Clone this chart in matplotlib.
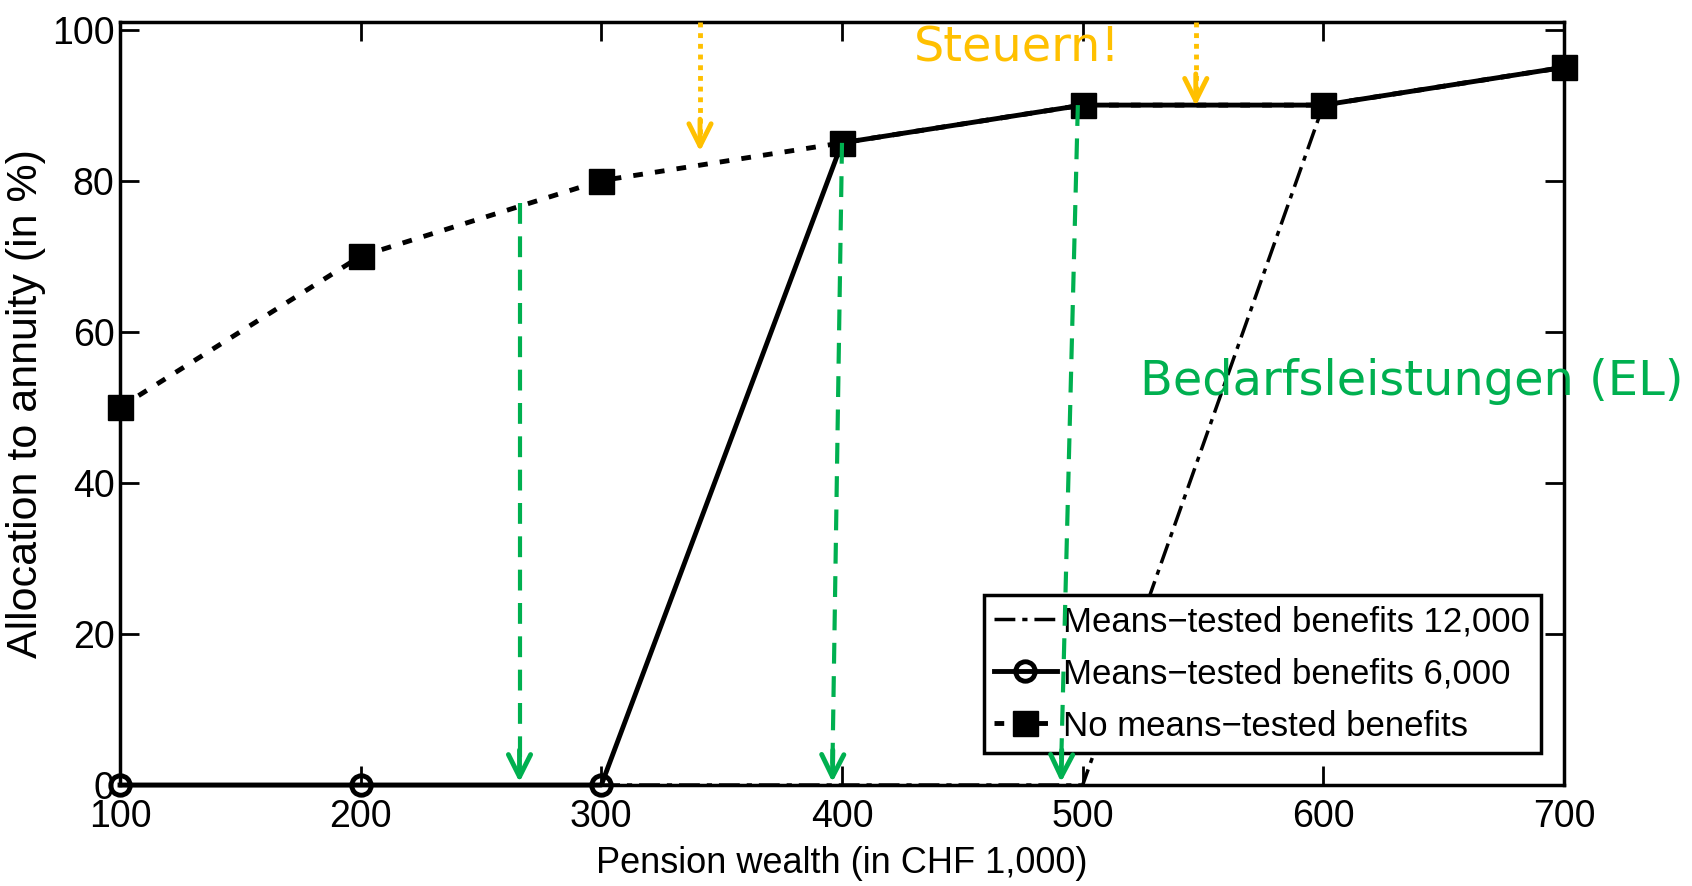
import numpy as np
import matplotlib
matplotlib.use("Agg")
import matplotlib.pyplot as plt

plt.rcParams['font.family'] = ['Liberation Sans', 'DejaVu Sans']

# data
pension_wealth = [100, 200, 300, 400, 500, 600, 700]
mt_12000 = [0, 0, 0, 0, 0, 90, 95]
mt_6000 = [0, 0, 0, 85, 90, 90, 95]
no_mt = [50, 70, 80, 85, 90, 90, 95]

legend_labels = ["Means\u2212tested benefits 12,000",
                 "Means\u2212tested benefits 6,000",
                 "No means\u2212tested benefits"]

GREEN = "#00B050"
ORANGE = "#FFC000"

fig = plt.figure(figsize=(16.92, 8.86), dpi=100)
ax = fig.add_axes([120 / 1692, 1 - 785 / 886, 1444 / 1692, 763 / 886])

l1, = ax.plot(pension_wealth, mt_12000, color="black", lw=2.5,
              linestyle=(0, (6, 2, 1.5, 2)), zorder=2, clip_on=False)
l2, = ax.plot(pension_wealth, mt_6000, color="black", lw=3.5, marker="o",
              markersize=14, markerfacecolor="none", markeredgewidth=3.5, zorder=3,
              clip_on=False)
l3, = ax.plot(pension_wealth, no_mt, color="black", lw=3.5, linestyle=(0, (2, 2.5)),
              marker="s", markersize=18, markerfacecolor="black", zorder=4,
              clip_on=False)

ax.set_xlim(100, 700)
ax.set_ylim(0, 101)
ax.set_xticks(pension_wealth)
ax.set_yticks([0, 20, 40, 60, 80, 100])
ax.tick_params(direction="in", length=14, width=2, labelsize=27, top=True, right=True)
ax.tick_params(axis="x", pad=10)
ax.tick_params(axis="y", pad=4)
for s in ax.spines.values():
    s.set_linewidth(2.5)

ax.set_xlabel("Pension wealth (in CHF 1,000)", fontsize=26, labelpad=8)
ax.set_ylabel("Allocation to annuity (in %)", fontsize=31, labelpad=4)

leg = ax.legend([l1, l2, l3], legend_labels, loc="lower right",
                bbox_to_anchor=(0.984, 0.042), borderaxespad=0, fontsize=25,
                handlelength=1.8, handletextpad=0.2, borderpad=0.3, labelspacing=0.55,
                fancybox=False, framealpha=1, edgecolor="black")
leg.get_frame().set_linewidth(2.5)
leg.set_zorder(6)

# green dashed arrows (Bedarfsleistungen)
green_arrows = [((266, 77), (266, 0)), ((400, 85), (396, 0)), ((498, 90), (491, 0))]
for (x0, y0), (x1, y1) in green_arrows:
    ax.plot([x0, x1], [y0, y1 + 2], color=GREEN, lw=3, linestyle=(0, (5, 3)), zorder=7)
    ax.annotate("", xy=(x1, y1), xytext=(x1 + (x0 - x1) * 0.05, y1 + 5),
                arrowprops=dict(arrowstyle="->", color=GREEN, lw=3.5, mutation_scale=40),
                zorder=7)

# orange dotted arrows (Steuern)
orange_arrows = [((341, 101), (341, 83.5)), ((547, 101), (547, 89.5))]
for (x0, y0), (x1, y1) in orange_arrows:
    ax.plot([x0, x1], [y0, y1 + 2], color=ORANGE, lw=3.5, linestyle=(0, (1, 1.2)),
            zorder=7, clip_on=False)
    ax.annotate("", xy=(x1, y1), xytext=(x1, y1 + 5),
                arrowprops=dict(arrowstyle="->", color=ORANGE, lw=3.5, mutation_scale=40),
                zorder=7)

ax.text(473, 97.5, "Steuern!", color=ORANGE, fontsize=34.5, ha="center", va="center",
        family="DejaVu Sans", zorder=8)
ax.text(524, 53.4, "Bedarfsleistungen (EL)", color=GREEN, fontsize=34.5, ha="left",
        va="center", family="DejaVu Sans", zorder=8, clip_on=False)

fig.savefig("out.png", dpi=100)
